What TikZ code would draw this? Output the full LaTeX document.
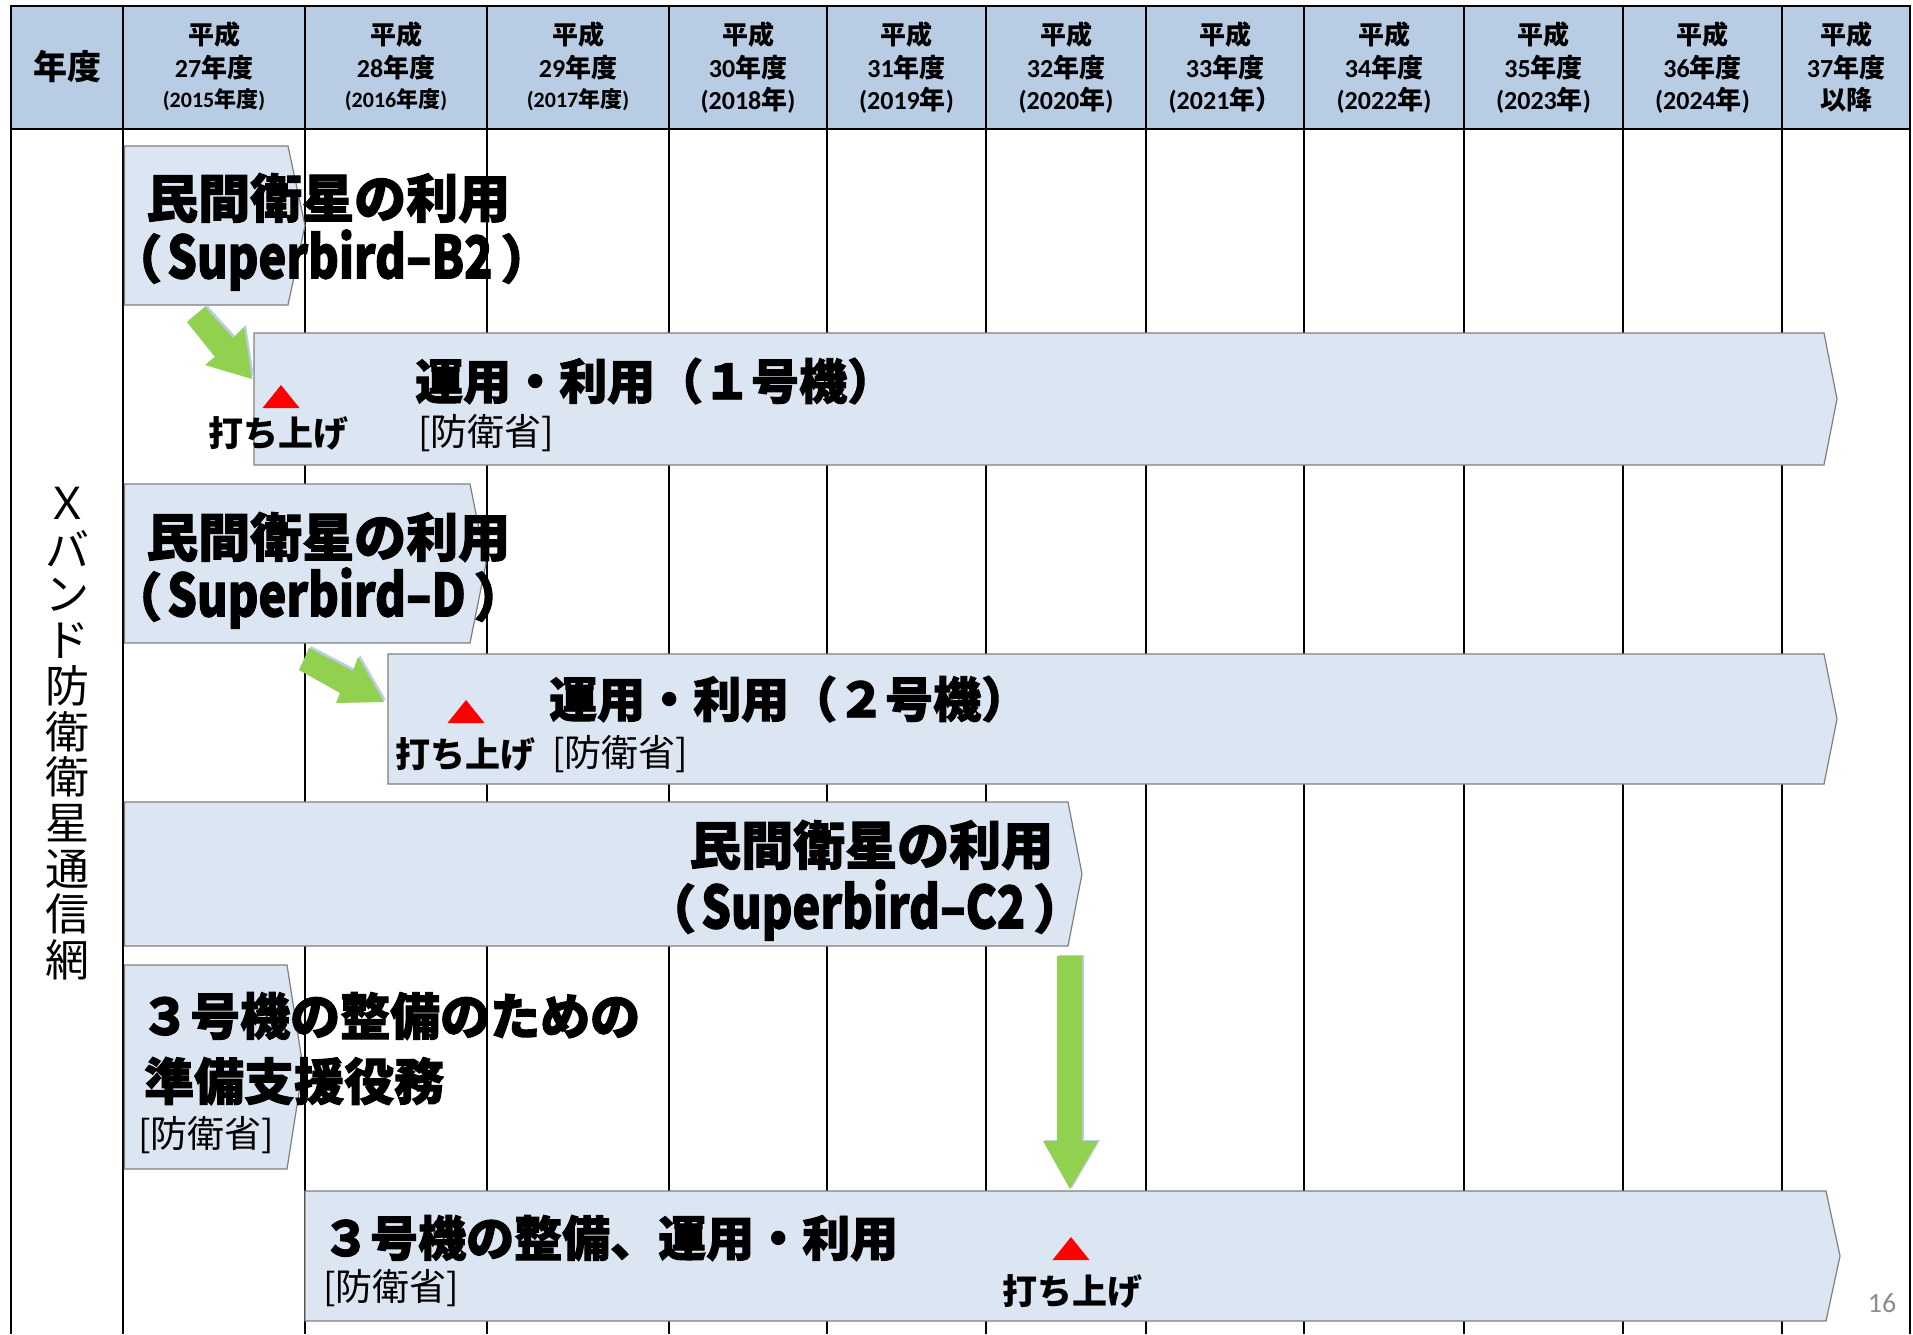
\documentclass[tikz,border=0pt]{standalone}
\usepackage{fontspec}
\usepackage{graphicx}
\setmainfont{Noto Sans CJK JP}
\newfontfamily\latn{Carlito}
\newfontfamily\heavyjp{Noto Sans CJK JP}[BoldFeatures={FakeBold=2}]
\newcommand\fsz[1]{\fontsize{#1}{#1}\selectfont}
\newcommand\dg[1]{{\latn #1}}
\newcommand\sbird[1]{（\kern5pt\scalebox{0.9}[1.13]{#1}\kern8pt）}
\definecolor{headfill}{HTML}{B8CCE4}
\definecolor{boxfill}{HTML}{DCE6F2}
\definecolor{boxline}{HTML}{7F7F7F}
\definecolor{agreen}{HTML}{92D050}
\definecolor{ashade}{HTML}{B9CDE5}
\definecolor{pgnum}{HTML}{8C8C8C}
\tikzset{
  gridline/.style={line width=2.5pt, black},
  chevbox/.style={fill=boxfill, draw=boxline, line width=1.2pt, line join=miter},
  txt/.style={inner sep=0pt, anchor=west},
  ctxt/.style={inner sep=0pt, anchor=center},
  hd/.style={ctxt, font=\bfseries\fsz{26}},
  hdsmall/.style={ctxt, font=\bfseries\fsz{22}},
  ttl/.style={txt, font=\heavyjp\bfseries\fsz{52}},
  optl/.style={txt, font=\heavyjp\bfseries\fsz{48}},
  prep/.style={txt, font=\heavyjp\bfseries\fsz{50}},
  thr/.style={txt, font=\heavyjp\bfseries\fsz{48}},
  mod/.style={txt, font=\fsz{37}},
  launch/.style={ctxt, font=\bfseries\fsz{35}},
  vlab/.style={ctxt, font=\fsz{44}},
  redtri/.style={fill=red, draw=none},
  greenarrow/.style={fill=agreen, draw=none},
  arrowshade/.style={fill=ashade, draw=none},
}
\newcommand\hdr[5]{%
  \node[hd] (#1a) at (#2,34.5) {平成};
  \node[hd] (#1b) at (#2,68) {#3};
  \node[#5] (#1c) at (#2,100) {#4};}
\begin{document}
\begin{tikzpicture}[x=1pt,y=-1pt]
\useasboundingbox (0,0) rectangle (1913,1334);
\fill[white] (0,0) rectangle (1913,1334);
% header band
\fill[headfill] (11,6) rectangle (1910,129);
% grid
\foreach \x in {11,123,305,487,669,827,986,1146,1304,1464,1623,1782,1910}
  \draw[gridline] (\x,6) -- (\x,1334);
\draw[gridline] (9.75,6) -- (1911.25,6);
\draw[gridline] (11,129) -- (1910,129);

% header texts
\node[ctxt, font=\bfseries\fsz{34}] (nendo) at (67,67) {年度};
\hdr{h1}{214}{\dg{27}年度}{\dg{(2015}年度\dg{)}}{hdsmall}
\hdr{h2}{396}{\dg{28}年度}{\dg{(2016}年度\dg{)}}{hdsmall}
\hdr{h3}{578}{\dg{29}年度}{\dg{(2017}年度\dg{)}}{hdsmall}
\hdr{h4}{748}{\dg{30}年度}{\dg{(2018}年\dg{)}}{hd}
\hdr{h5}{906.5}{\dg{31}年度}{\dg{(2019}年\dg{)}}{hd}
\hdr{h6}{1066}{\dg{32}年度}{\dg{(2020}年\dg{)}}{hd}
\hdr{h7}{1225}{\dg{33}年度}{\dg{(2021}年）}{hd}
\hdr{h8}{1384}{\dg{34}年度}{\dg{(2022}年\dg{)}}{hd}
\hdr{h9}{1543.5}{\dg{35}年度}{\dg{(2023}年\dg{)}}{hd}
\hdr{h10}{1702.5}{\dg{36}年度}{\dg{(2024}年\dg{)}}{hd}
\hdr{h11}{1846}{\dg{37}年度}{以降}{hd}

% vertical row label
\foreach \ch [count=\i from 0] in {Ｘ,バ,ン,ド,防,衛,衛,星,通,信,網}
  \node[vlab] (v\i) at (67,{503+45.7*\i}) {\ch};

% chevron boxes
\draw[chevbox] (124.5,146) -- (288,146) -- (305,225.5) -- (288,305) -- (124.5,305) -- cycle;
\draw[chevbox] (254,333) -- (1824,333) -- (1837,399) -- (1824,465) -- (254,465) -- cycle;
\draw[chevbox] (124.5,484) -- (470,484) -- (486,563.5) -- (470,643) -- (124.5,643) -- cycle;
\draw[chevbox] (388,654) -- (1824,654) -- (1837,719) -- (1824,784) -- (388,784) -- cycle;
\draw[chevbox] (124.5,802) -- (1068,802) -- (1082,874) -- (1068,946) -- (124.5,946) -- cycle;
\draw[chevbox] (124.5,965) -- (287,965) -- (303,1067) -- (287,1169) -- (124.5,1169) -- cycle;
\draw[chevbox] (305,1191) -- (1826,1191) -- (1840,1256) -- (1826,1321) -- (305,1321) -- cycle;

% green arrows (with faint blue edge)
\fill[arrowshade, shift={(2,-2)}] (187,322) -- (205,307) -- (233,338) -- (244,327) -- (252,379) -- (205,365) -- (215,357) -- cycle;
\fill[greenarrow] (187,322) -- (205,307) -- (233,338) -- (244,327) -- (252,379) -- (205,365) -- (215,357) -- cycle;
\fill[arrowshade, shift={(2,-2)}] (309,648) -- (353,671) -- (358,657) -- (384,702) -- (336,703) -- (340,693) -- (299,670) -- cycle;
\fill[greenarrow] (309,648) -- (353,671) -- (358,657) -- (384,702) -- (336,703) -- (340,693) -- (299,670) -- cycle;
\fill[arrowshade, shift={(2,-1)}] (1057,956) -- (1082,956) -- (1082,1141) -- (1098,1141) -- (1070,1189) -- (1043,1141) -- (1057,1141) -- cycle;
\fill[greenarrow] (1057,956) -- (1082,956) -- (1082,1141) -- (1098,1141) -- (1070,1189) -- (1043,1141) -- (1057,1141) -- cycle;

% box texts
\node[ttl] (b2a) at (146,198) {民間衛星の利用};
\node[ttl] (b2b) at (110,260) {\sbird{Superbird–B2}};
\node[optl] (op1) at (415,381) {運用・利用（１号機）};
\node[mod] (op1m) at (418,433) {[防衛省]};
\fill[redtri] (262.5,408) -- (299.5,408) -- (281,385) -- cycle;
\node[launch] (l1) at (278,433) {打ち上げ};

\node[ttl] (da) at (146,537) {民間衛星の利用};
\node[ttl] (db) at (110,598) {\sbird{Superbird–D}};
\node[optl] (op2) at (549,699) {運用・利用（２号機）};
\node[mod] (op2m) at (552,754) {[防衛省]};
\fill[redtri] (447.5,723) -- (484.5,723) -- (466,700) -- cycle;
\node[launch] (l2) at (465,754) {打ち上げ};

\node[ttl] (c2a) at (689,845) {民間衛星の利用};
\node[ttl] (c2b) at (644,910) {\sbird{Superbird–C2}};

\node[prep] (pa) at (140,1016) {３号機の整備のための};
\node[prep] (pb) at (144,1081) {準備支援役務};
\node[mod] (pm) at (138,1135) {[防衛省]};

\node[thr] (ta) at (322,1238) {３号機の整備、運用・利用};
\node[mod] (tm) at (323,1288) {[防衛省]};
\fill[redtri] (1052.5,1260) -- (1089.5,1260) -- (1071,1237) -- cycle;
\node[launch] (l3) at (1072,1291) {打ち上げ};

\node[ctxt, font=\latn\fsz{28}, text=pgnum] (pg) at (1882,1303) {16};
\end{tikzpicture}
\end{document}
